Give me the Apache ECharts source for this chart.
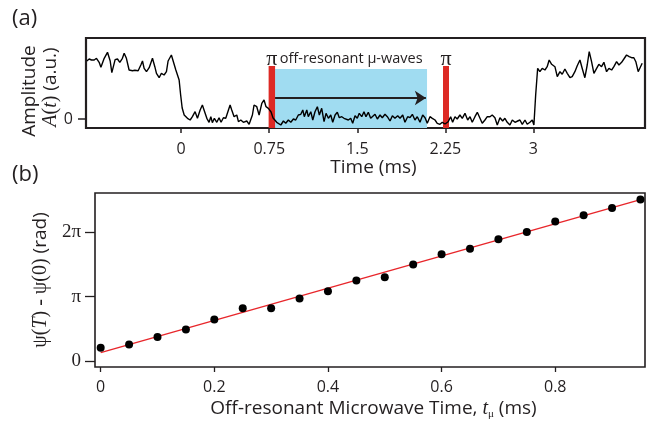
<!DOCTYPE html>
<html><head><meta charset="utf-8">
<script src="https://cdn.jsdelivr.net/npm/echarts@6/dist/echarts.min.js"></script>
<style>html,body{margin:0;padding:0;background:#fff}#c{width:651px;height:424px}</style>
</head><body><div id="c"></div>
<script>
// ---- Panel (a): amplitude trace ----
const traceTime = [
-0.803,-0.783,-0.763,-0.740,-0.721,-0.698,-0.683,-0.655,-0.627,-0.604,-0.590,-0.562,-0.542,-0.522,-0.500,-0.485,-0.466,-0.443,-0.414,-0.394,
-0.380,-0.366,-0.343,-0.329,-0.315,-0.295,-0.272,-0.244,-0.224,-0.210,-0.187,-0.168,-0.145,-0.125,-0.111,-0.083,-0.066,-0.045,-0.031,-0.017,
-0.004,0.009,0.026,0.034,0.054,0.077,0.096,0.119,0.139,0.162,0.181,0.198,0.219,0.238,0.253,0.266,0.283,0.304,0.323,0.340,
0.360,0.380,0.403,0.417,0.431,0.451,0.474,0.488,0.508,0.530,0.559,0.579,0.593,0.607,0.621,0.644,0.664,0.687,0.706,0.723,
0.743,0.766,0.783,0.814,0.828,0.849,0.871,0.891,0.913,0.934,0.956,0.976,0.998,1.019,1.036,1.049,1.070,1.083,1.104,1.121,
1.140,1.160,1.177,1.197,1.217,1.234,1.254,1.274,1.291,1.311,1.330,1.347,1.368,1.387,1.404,1.424,1.444,1.461,1.481,1.500,
1.517,1.538,1.557,1.574,1.594,1.614,1.631,1.651,1.671,1.694,1.713,1.736,1.756,1.779,1.799,1.821,1.844,1.864,1.887,1.906,
1.929,1.949,1.969,1.991,2.011,2.034,2.057,2.077,2.096,2.119,2.139,2.162,2.181,2.204,2.224,2.247,2.274,2.295,2.312,2.332,
2.351,2.374,2.394,2.417,2.440,2.460,2.479,2.502,2.522,2.545,2.564,2.587,2.607,2.630,2.649,2.672,2.692,2.715,2.738,2.757,
2.777,2.800,2.820,2.843,2.866,2.885,2.905,2.928,2.947,2.970,2.990,3.004,3.019,3.036,3.055,3.075,3.098,3.117,3.134,3.155,
3.183,3.203,3.226,3.245,3.268,3.288,3.311,3.330,3.353,3.373,3.396,3.415,3.438,3.458,3.475,3.495,3.515,3.538,3.557,3.580,
3.600,3.623,3.643,3.666,3.685,3.708,3.728,3.751,3.770,3.793,3.815,3.836,3.855,3.872,3.892,3.906,3.926
];
const traceAmp = [
58,60,59,59,60.7,56.7,51.7,60.7,66.7,58,46.3,59.3,60,56.7,60.7,65.7,60.7,49,48.3,48.7,
50.7,48.3,54,58,50.7,47.3,51.3,60.7,52.3,45.7,41.3,45.7,44,47.3,58,64,63.3,49,47.3,39,
24,11,4,4,0.7,-1,2.3,7.3,0.7,9,14,8,0.7,-3.3,2.3,-3.7,0.7,-3.3,1.3,-3.3,
1.3,0.7,9,14,9,2.3,4,-2.7,-1,-3.3,-2,-5.3,-3.3,4,14,12.3,4,15.7,19,12.3,
10.7,7,1,-3.3,-3.3,-6,-2,-4.3,-1,-3.3,0,-1,4,4.7,9,2.3,9,2.3,7.3,-1,
7.3,12.3,4,10.7,-2.7,5.7,0.7,4,-3.3,4,6.7,1.3,2.3,0.7,2.3,-1,0.7,-4.3,3.3,0.7,
5.7,2.3,7.3,2.3,6.7,0.7,2.3,4.7,0,4,1.3,4.7,2.3,-2,3.3,0.7,3.3,0.7,4,-3.3,
2.3,1.3,4.7,-1,2.3,-3.3,4,1.3,-4.3,2.3,0.7,-1,-4.3,-5.3,-3.3,-5,-2.7,2.3,-3.3,2.3,
0,4,0.7,5.7,-1,2.3,-3.3,2.3,6.7,0.7,-4.3,-1,2.3,2.3,4,1.3,-6,1.3,-2,0.7,
-3.3,-6,-1,-3.3,-2,-1,-5.3,-1,-5.3,-3.3,-1,-6,24,50.7,47.3,50.7,49,52.3,59,54.7,
52.3,42.3,47.3,44.7,50,45.7,41.3,42.3,47.3,53.3,59,50.7,41.3,54,67.3,57.3,45.7,50.7,54.7,52.3,
56.7,47.3,50.7,49,52.3,57.3,54,56.7,60,64,62.3,61.3,61.3,57.3,47.3,45.7,55.7
];
const timeTicks = [0, 0.75, 1.5, 2.25, 3];
const piPulse1 = [0.745, 0.800];
const piPulse2 = [2.230, 2.281];
const pulseTop = 53;
const muWaveWindow = [0.800, 2.094];
const muWaveTop = 50;
const arrowLevel = 21;

// ---- Panel (b): phase vs off-resonant time ----
const tuTime = [0,0.05,0.1,0.15,0.2,0.25,0.3,0.35,0.4,0.45,0.5,0.55,0.6,0.65,0.7,0.75,0.8,0.85,0.9,0.95];
const phase = [0.66,0.82,1.18,1.54,2.03,2.58,2.58,3.05,3.41,3.93,4.08,4.71,5.20,5.47,5.93,6.28,6.80,7.10,7.45,7.87];
const fitTime = [0, 0.95];
const fitPhase = [0.42, 7.86];
const tuTicks = [0, 0.2, 0.4, 0.6, 0.8];
const phaseTicks = [0, Math.PI, 2 * Math.PI];
const phaseTickLabels = ['0', 'π', '2π'];

const INK = '#231f20';
const SANS = '"Open Sans", sans-serif';
const SERIF = '"Liberation Serif", "DejaVu Serif", serif';

const chart = echarts.init(document.getElementById('c'), null, {renderer: 'canvas'});
const option = {
  animation: false,
  backgroundColor: '#fff',
  grid: [
    {left: 86, top: 38, width: 559, height: 90, show: true, borderColor: INK, borderWidth: 2.2, backgroundColor: 'transparent'},
    {left: 95, top: 193, width: 550, height: 174, show: true, borderColor: INK, borderWidth: 1.6, backgroundColor: 'transparent'}
  ],
  xAxis: [
    {
      gridIndex: 0, type: 'value', min: -0.81, max: 3.95, position: 'bottom',
      axisLine: {show: false, onZero: false}, splitLine: {show: false},
      axisTick: {show: true, inside: false, length: 5, customValues: timeTicks, lineStyle: {color: INK, width: 1.5}},
      axisLabel: {customValues: timeTicks, margin: 13, color: INK, fontFamily: SANS, fontSize: 16},
      name: 'Time (ms)', nameLocation: 'middle', nameGap: 29,
      nameTextStyle: {color: INK, fontFamily: SANS, fontSize: 19, padding: [0, 0, 0, 16]}
    },
    {
      gridIndex: 1, type: 'value', min: -0.01, max: 0.958, position: 'bottom',
      axisLine: {show: false, onZero: false}, splitLine: {show: false},
      axisTick: {show: true, inside: false, length: 5, customValues: tuTicks, lineStyle: {color: INK, width: 1.3}},
      axisLabel: {customValues: tuTicks, margin: 12, color: INK, fontFamily: SANS, fontSize: 16},
      name: 'Off-resonant Microwave Time, {i|t}{sub|μ} (ms)', nameLocation: 'middle', nameGap: 30,
      nameTextStyle: {color: INK, fontFamily: SANS, fontSize: 19, padding: [0, 0, 0, 7],
        rich: {
          i: {fontFamily: SERIF, fontStyle: 'italic', fontSize: 20, color: INK},
          sub: {fontFamily: SERIF, fontSize: 11, color: INK, padding: [12, 0, 0, 0]}
        }}
    }
  ],
  yAxis: [
    {
      gridIndex: 0, type: 'value', min: -9, max: 81, position: 'left',
      axisLine: {show: false, onZero: false}, splitLine: {show: false},
      axisTick: {show: true, inside: false, length: 8, customValues: [0], lineStyle: {color: INK, width: 1.5}},
      axisLabel: {customValues: [0], margin: 13, color: INK, fontFamily: SANS, fontSize: 16}
    },
    {
      gridIndex: 1, type: 'value', min: -0.277, max: 8.18, position: 'left',
      axisLine: {show: false, onZero: false}, splitLine: {show: false},
      axisTick: {show: true, inside: false, length: 10, customValues: phaseTicks, lineStyle: {color: INK, width: 1.3}},
      axisLabel: {customValues: phaseTicks, margin: 14, color: INK, fontFamily: SERIF, fontSize: 19,
        formatter: v => phaseTickLabels[Math.round(v / Math.PI)]},
      name: '{s|ψ(}{i|T}{s|) - ψ(0)} (rad)', nameLocation: 'middle', nameGap: 44, nameRotate: 90,
      nameTextStyle: {color: INK, fontFamily: SANS, fontSize: 19,
        rich: {
          s: {fontFamily: SERIF, fontSize: 20, color: INK},
          i: {fontFamily: SERIF, fontStyle: 'italic', fontSize: 20, color: INK}
        }}
    }
  ],
  series: [
    {
      type: 'line', xAxisIndex: 0, yAxisIndex: 0, data: [], z: 1, silent: true,
      markArea: {silent: true, itemStyle: {color: '#a0dcf1', opacity: 1},
        data: [[{coord: [muWaveWindow[0], -9]}, {coord: [muWaveWindow[1], muWaveTop]}]]}
    },
    {
      type: 'line', xAxisIndex: 0, yAxisIndex: 0, z: 2, silent: true,
      data: traceTime.map((t, i) => [t, traceAmp[i]]),
      showSymbol: false, symbol: 'none',
      lineStyle: {color: '#000', width: 1.4}
    },
    {
      type: 'line', xAxisIndex: 0, yAxisIndex: 0, data: [], z: 3, silent: true,
      markArea: {silent: true, itemStyle: {color: '#dd2a25', opacity: 1},
        data: [
          [{coord: [piPulse1[0], -9]}, {coord: [piPulse1[1], pulseTop]}],
          [{coord: [piPulse2[0], -9]}, {coord: [piPulse2[1], pulseTop]}]
        ]},
      markLine: {silent: true, symbol: ['none', 'arrow'], symbolSize: [11, 11],
        lineStyle: {color: '#231f20', width: 2.2, type: 'solid'}, label: {show: false},
        data: [[{coord: [muWaveWindow[0], arrowLevel]}, {coord: [muWaveWindow[1] - 0.01, arrowLevel]}]]}
    },
    {
      type: 'line', xAxisIndex: 1, yAxisIndex: 1, z: 3, silent: true,
      data: fitTime.map((t, i) => [t, fitPhase[i]]),
      showSymbol: false, symbol: 'none',
      lineStyle: {color: '#e8262b', width: 1.4}
    },
    {
      type: 'scatter', xAxisIndex: 1, yAxisIndex: 1, z: 4, silent: true,
      data: tuTime.map((t, i) => [t, phase[i]]),
      symbol: 'circle', symbolSize: 8,
      itemStyle: {color: '#000', opacity: 1}
    }
  ]
};
chart.setOption(option);

// annotations positioned from data coordinates
const px = (t, a) => chart.convertToPixel({xAxisIndex: 0, yAxisIndex: 0}, [t, a]);
const p1 = px((piPulse1[0] + piPulse1[1]) / 2, 60);
const p2 = px((piPulse2[0] + piPulse2[1]) / 2, 60);
const pText = px(muWaveWindow[0] + 0.04, 60);
const pTu = px(1.40, 36);
chart.setOption({
  graphic: [
    {type: 'text', x: 12, y: 8, style: {text: '(a)', font: '22px ' + SANS, fill: INK}},
    {type: 'text', x: 12, y: 164, style: {text: '(b)', font: '22px ' + SANS, fill: INK}},
    {type: 'text', x: 30, y: 91, rotation: Math.PI / 2,
      style: {text: 'Amplitude', font: '19px ' + SANS, fill: INK, align: 'center', verticalAlign: 'middle'}},
    {type: 'text', x: 51, y: 87, rotation: Math.PI / 2,
      style: {text: '{i|A}{n|(}{i|t}{n|)} (a.u.)', font: '19px ' + SANS, fill: INK, align: 'center', verticalAlign: 'middle',
        rich: {i: {fontFamily: SERIF, fontStyle: 'italic', fontSize: 20, fill: INK}, n: {fontFamily: SERIF, fontSize: 20, fill: INK}}}},
    {type: 'text', x: p1[0], y: p1[1], style: {text: 'π', font: '22px ' + SERIF, fill: INK, align: 'center', verticalAlign: 'middle'}},
    {type: 'text', x: p2[0], y: p2[1], style: {text: 'π', font: '22px ' + SERIF, fill: INK, align: 'center', verticalAlign: 'middle'}},
    {type: 'text', x: pText[0], y: pText[1], style: {text: 'off-resonant μ-waves', font: '14.5px ' + SANS, fill: INK, align: 'left', verticalAlign: 'middle'}},
    {type: 'text', x: pTu[0], y: pTu[1],
      style: {text: '{i|t}{s|μ}', fill: INK, align: 'center', verticalAlign: 'middle',
        rich: {i: {fontFamily: SERIF, fontStyle: 'italic', fontSize: 24, fill: INK}, s: {fontFamily: SERIF, fontSize: 11, fill: INK, padding: [12, 0, 0, 0]}}}}
  ]
});
</script></body></html>
